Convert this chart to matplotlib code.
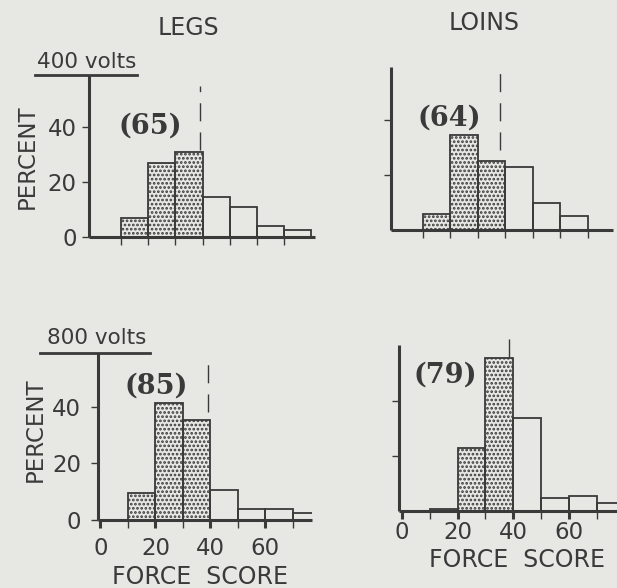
import matplotlib
matplotlib.use("Agg")
import matplotlib.pyplot as plt

# ---- data ----
bin_left = [10, 20, 30, 40, 50, 60, 70]
bin_width = 10
legs_400 = [7, 27, 31, 14.5, 11, 4, 2.5]
loins_400 = [6, 34.5, 25, 23, 10, 5, 0]
legs_800 = [9.5, 41.5, 35.5, 10.5, 4, 4, 2.5]
loins_800 = [0.7, 23, 55.5, 34, 4.7, 5.5, 3]
shaded = [True, True, True, False, False, False, False]
labels_n = ["(65)", "(64)", "(85)", "(79)"]
mean_x = [39, 38, 39, 38.5]
yticks = [0, 20, 40]
xtick_labels = [0, 20, 40, 60]

W, H = 617, 588
BG = "#e7e7e4"
INK = "#3a3a3a"
plt.rcParams["hatch.linewidth"] = 1.3
plt.rcParams["font.family"] = ["DejaVu Sans"]

fig = plt.figure(figsize=(W / 100, H / 100), dpi=100, facecolor=BG)


def fx(px):
    return px / W


def fy(py):
    return 1 - py / H


def make_ax(left, right, base, top, xlim, ylim):
    ax = fig.add_axes([fx(left), fy(base), (right - left) / W, (base - top) / H])
    ax.set_facecolor("none")
    ax.set_xlim(*xlim)
    ax.set_ylim(*ylim)
    for s in ("top", "right"):
        ax.spines[s].set_visible(False)
    for s in ("left", "bottom"):
        ax.spines[s].set_linewidth(2.2)
        ax.spines[s].set_color(INK)
        ax.spines[s].set_capstyle("butt")
    return ax


panels = [
    dict(vals=legs_400, rect=(89, 315, 237, 75), xlim=(-1.8, 81.3), ylim=(0, 59),
         ylab=True, xlab=False, n=(150, 126), dash=(31.6, 55)),
    dict(vals=loins_400, rect=(391, 613, 230, 67), xlim=(-1.6, 79.1), ylim=(0, 59.3),
         ylab=False, xlab=False, n=(449, 118), dash=(29, 58)),
    dict(vals=legs_800, rect=(98, 312, 520, 353), xlim=(-0.9, 77), ylim=(0, 59),
         ylab=True, xlab=True, n=(156, 386), dash=(38, 55), xpad=6),
    dict(vals=loins_800, rect=(399, 617, 511, 345), xlim=(-1.1, 77.3), ylim=(0, 60.4),
         ylab=False, xlab=True, n=(445, 375), dash=(56, 65), xpad=1),
]

for i, p in enumerate(panels):
    l, r, b, t = p["rect"]
    ax = make_ax(l, r, b, t, p["xlim"], p["ylim"])
    for x, v, sh in zip(bin_left, p["vals"], shaded):
        if v <= 0:
            continue
        ax.bar(x, v, width=bin_width, align="edge", facecolor="none",
               edgecolor=INK, linewidth=1.3, hatch="...." if sh else None,
               zorder=2)
    # mean line
    ax.plot([mean_x[i], mean_x[i]], p["dash"], color=INK, lw=1.0,
            linestyle=(0, (13, 8)), clip_on=False, zorder=3)
    # y ticks
    if p["ylab"]:
        ax.set_yticks(yticks)
        ax.set_yticklabels([str(v) for v in yticks])
    else:
        ax.set_yticks([20, 40])
        ax.set_yticklabels([])
    ax.tick_params(axis="y", direction="out", length=5, width=1.0, color=INK,
                   labelsize=16.5, labelcolor=INK, pad=4 if i == 0 else 7)
    # x ticks
    ax.set_xticks([10, 30, 50, 70], minor=True)
    ax.set_xticks([20, 40, 60] if not p["xlab"] else xtick_labels)
    if p["xlab"]:
        ax.set_xticklabels([str(v) for v in xtick_labels])
        ax.tick_params(axis="x", which="major", direction="out", length=6,
                       width=2.2, color=INK, labelsize=16.5, labelcolor=INK,
                       pad=p["xpad"])
    else:
        ax.set_xticklabels([])
        ax.tick_params(axis="x", which="major", direction="out", length=6,
                       width=1.0, color=INK)
    ax.tick_params(axis="x", which="minor", direction="out", length=6,
                   width=1.0, color=INK)
    nx, ny = p["n"]
    fig.text(fx(nx), fy(ny), labels_n[i], ha="center", va="center",
             fontsize=19.5, fontweight="bold", family="DejaVu Serif", color=INK)

# column titles
fig.text(fx(188), fy(28), "LEGS", ha="center", va="center", fontsize=17, color=INK)
fig.text(fx(484), fy(23), "LOINS", ha="center", va="center", fontsize=17, color=INK)

# voltage headers with underline
fig.text(fx(87), fy(62), "400 volts", ha="center", va="center", fontsize=15.5, color=INK)
fig.add_artist(plt.Line2D([fx(35), fx(137)], [fy(75), fy(75)], color=INK, lw=2.0))
fig.text(fx(97), fy(338), "800 volts", ha="center", va="center", fontsize=15.5, color=INK)
fig.add_artist(plt.Line2D([fx(40), fx(150)], [fy(353), fy(353)], color=INK, lw=2.0))

# axis labels
fig.text(fx(27), fy(157), "PERCENT", rotation=90, ha="center", va="center",
         fontsize=16.5, color=INK)
fig.text(fx(35), fy(430), "PERCENT", rotation=90, ha="center", va="center",
         fontsize=16.5, color=INK)
fig.text(fx(200), fy(577), "FORCE  SCORE", ha="center", va="center", fontsize=17, color=INK)
fig.text(fx(517), fy(560), "FORCE  SCORE", ha="center", va="center", fontsize=17, color=INK)

fig.savefig("out.png", dpi=100, facecolor=BG)
